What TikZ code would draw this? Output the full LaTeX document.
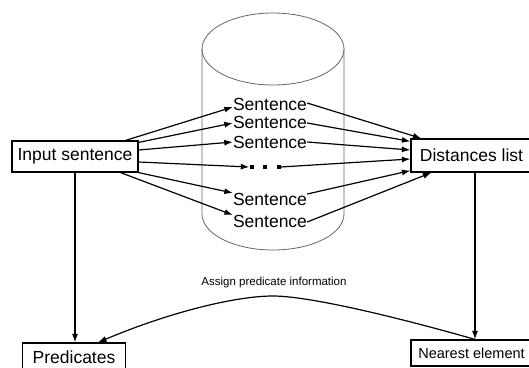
\documentclass[tikz,border=0pt]{standalone}
\usepackage{fontspec}
\setmainfont{Liberation Sans}
\usetikzlibrary{arrows.meta}
\begin{document}
\begin{tikzpicture}[x=1pt,y=-1pt,
  box/.style={draw,line width=1.2pt,inner sep=0pt,font=\fontsize{17.5}{20}\selectfont},
  sent/.style={inner sep=0pt,font=\fontsize{17.5}{20}\selectfont},
  arr/.style={line width=1.2pt,-{Latex[length=8.5pt,width=6pt]}},
  cyl/.style={draw=black!60,line width=0.8pt}]
\useasboundingbox (0,0) rectangle (529,367);
% cylinder
\draw[cyl] (273,49) ellipse [x radius=71, y radius=36];
\draw[cyl] (202,49) -- (202,214) arc[start angle=180,end angle=0,x radius=71,y radius=36] -- (344,49);
% boxes
\node[box,minimum width=126pt,minimum height=31pt] (in) at (75,156.5) {Input sentence};
\node[box,minimum width=121pt,minimum height=33pt] (dist) at (471.5,155.5) {Distances list};
\node[box,minimum width=102.5pt,minimum height=29pt] (pred) at (74,357.5) {Predicates};
\node[box,minimum width=121pt,minimum height=26pt,font=\fontsize{14.5}{17}\selectfont] (near) at (471.5,353) {Nearest element};
% sentences
\node[sent] (s1) at (270,104) {Sentence};
\node[sent] (s2) at (270,122) {Sentence};
\node[sent] (s3) at (270,142) {Sentence};
\node[inner sep=0pt] (dots) at (265,167) {\rule{4pt}{4pt}\hspace{9.5pt}\rule{4pt}{4pt}\hspace{9.5pt}\rule{4pt}{4pt}};
\node[sent] (s5) at (270,199) {Sentence};
\node[sent] (s6) at (270,221) {Sentence};
% left arrows
\draw[arr] ([xshift=-13pt]in.north east) -- ([yshift=-3pt]s1.west);
\draw[arr] ([yshift=-2pt]in.north east) -- ([yshift=-1pt]s2.west);
\draw[arr] ([yshift=6.5pt]in.east) -- (s3.west);
\draw[arr] ([yshift=-5.5pt]in.east) -- (dots.west);
\draw[arr] (in.south east) -- ([yshift=6pt]s5.west);
\draw[arr] ([xshift=-18pt]in.south east) -- ([yshift=6pt]s6.west);
% right arrows
\draw[arr] ([yshift=1pt]s1.east) -- ([xshift=11pt]dist.north west);
\draw[arr] ([yshift=-1pt]s2.east) -- ([yshift=-3pt]dist.north west);
\draw[arr] (s3.east) -- ([yshift=5.5pt]dist.west);
\draw[arr] (dots.east) -- ([yshift=-3.5pt]dist.west);
\draw[arr] ([yshift=5pt]s5.east) -- ([yshift=2pt]dist.south west);
\draw[arr] ([yshift=-1pt]s6.east) -- ([xshift=21pt]dist.south west);
% vertical arrows
\draw[arr] (in.south) -- (in.south |- pred.north);
\draw[arr] ([xshift=3.5pt]dist.south) -- ([xshift=3.5pt]near.north);
% curve
\coordinate (peak) at (273,296);
\draw[arr] ([xshift=3.5pt]near.north) .. controls (400,318) and (310,296) .. (peak)
  .. controls (236,296) and (170,312) .. ([xshift=24pt]pred.north);
\node[font=\fontsize{11.5}{13}\selectfont] (lbl) at (274,283) {Assign predicate information};
\end{tikzpicture}
\end{document}
